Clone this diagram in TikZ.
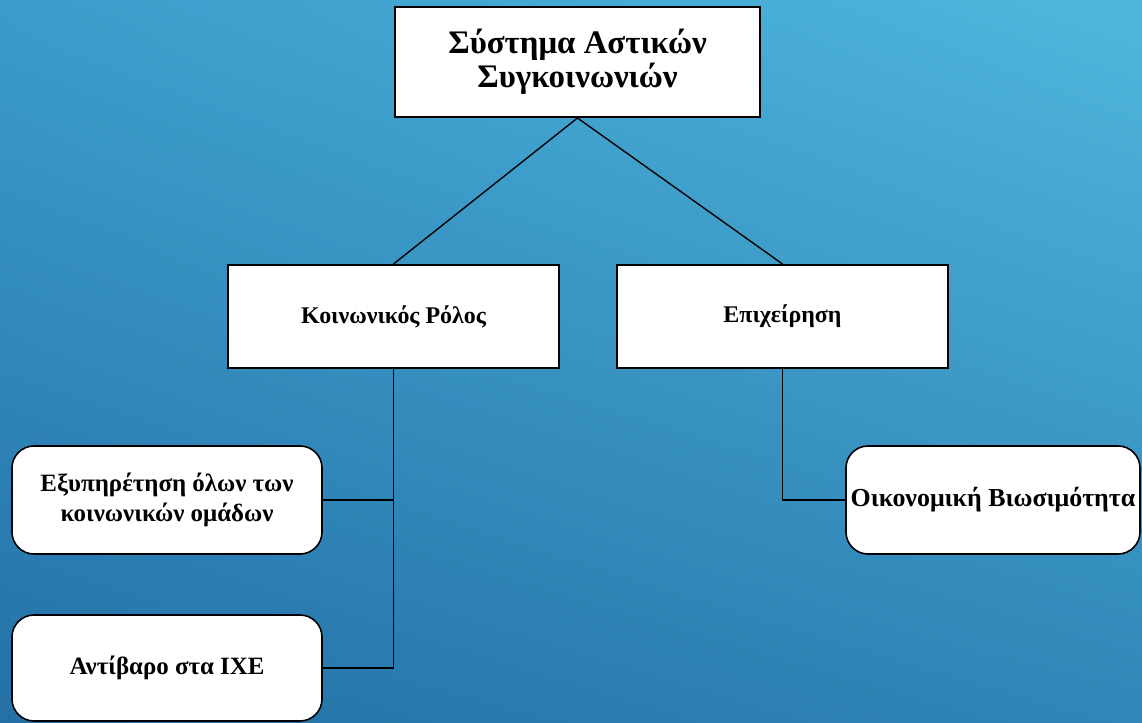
\documentclass[tikz,border=0pt]{standalone}
\usepackage{fontspec}
\setmainfont{Liberation Serif}
\usetikzlibrary{positioning,shadings}

\definecolor{bgtl}{RGB}{59,156,203}
\definecolor{bgtr}{RGB}{80,183,220}
\definecolor{bgbl}{RGB}{36,112,166}
\definecolor{bgbr}{RGB}{47,134,184}

\begin{document}
\begin{tikzpicture}[x=1bp,y=-1bp,
	title box/.style={rectangle,draw,line width=2pt,fill=white,inner sep=0pt,align=center,
		minimum width=365bp,minimum height=110bp,font=\bfseries\fontsize{33}{34}\selectfont},
	branch box/.style={rectangle,draw,line width=2pt,fill=white,inner sep=0pt,align=center,
		minimum width=331bp,minimum height=103bp,font=\bfseries\fontsize{24}{28}\selectfont},
	leaf box/.style={rectangle,rounded corners=22bp,draw,line width=1.6pt,fill=white,inner sep=0pt,
		align=center,minimum height=108bp,font=\bfseries\fontsize{25}{30}\selectfont},
	link/.style={draw,line width=1.4pt}
]

	\useasboundingbox (0,0) rectangle (1142,723);
	\shade[upper left=bgtl,upper right=bgtr,lower left=bgbl,lower right=bgbr] (0,0) rectangle (1142,723);

	\node[title box] at (577.5,62) (system) {Σύστημα Αστικών\\Συγκοινωνιών};

	\node[branch box] at (393.5,316.5) (social) {Κοινωνικός Ρόλος};
	\node[branch box] at (782.5,316.5) (business) {Επιχείρηση};

	\node[leaf box,minimum width=310bp] at (167,500) (serve) {Εξυπηρέτηση όλων των\\κοινωνικών ομάδων};
	\node[leaf box,minimum width=310bp,minimum height=106bp] at (167,668) (balance) {Αντίβαρο στα ΙΧΕ};
	\node[leaf box,minimum width=294bp,font=\bfseries\fontsize{26}{30}\selectfont] at (993,500) (economy) {Οικονομική Βιωσιμότητα};

	\draw[link] (system.south) -- (social.north);
	\draw[link] (system.south) -- (business.north);

	\draw[link] (social.south) |- (serve.east);
	\draw[link] (social.south) |- (balance.east);
	\draw[link] (business.south) |- (economy.west);
\end{tikzpicture}
\end{document}
